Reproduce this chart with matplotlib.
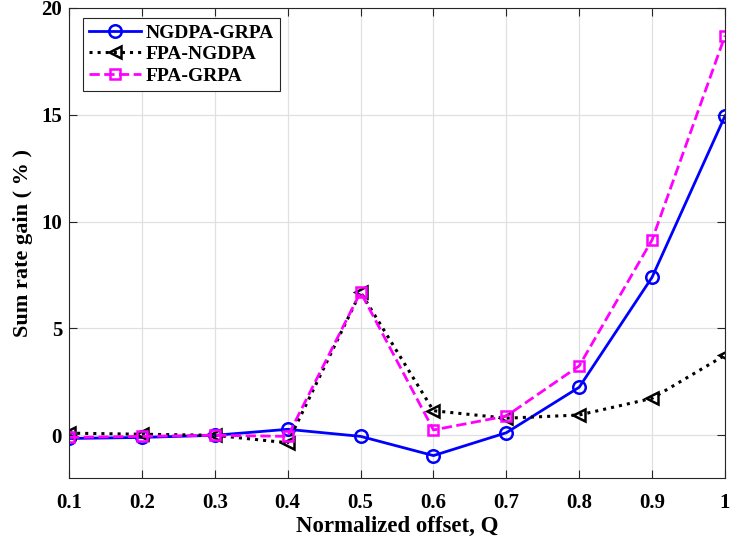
import matplotlib.pyplot as plt

# Sum rate gain (%) versus normalized offset Q
q = [0.1, 0.2, 0.3, 0.4, 0.5, 0.6, 0.7, 0.8, 0.9, 1.0]
ngdpaGrpa = [-0.15, -0.1, 0.0, 0.28, -0.05, -0.95, 0.12, 2.25, 7.4, 14.95]
fpaNgdpa = [0.1, 0.05, 0.0, -0.35, 6.7, 1.15, 0.8, 0.95, 1.73, 3.75]
fpaGrpa = [-0.1, -0.05, 0.0, -0.05, 6.7, 0.25, 0.9, 3.25, 9.15, 18.7]

xTicks = [0.1, 0.2, 0.3, 0.4, 0.5, 0.6, 0.7, 0.8, 0.9, 1]
xTickLabels = ['0.1', '0.2', '0.3', '0.4', '0.5', '0.6', '0.7', '0.8', '0.9', '1']
yTicks = [0, 5, 10, 15, 20]

plt.rcParams['font.family'] = ['Liberation Serif', 'DejaVu Serif']
plt.rcParams['font.weight'] = 'bold'

fig = plt.figure(figsize=(7.31, 5.47), dpi=100)
ax = fig.add_axes([0.0944, 0.1261, 0.8974, 0.8593])

ax.plot(q, ngdpaGrpa, color='blue', linestyle='-', linewidth=2, marker='o',
        markersize=9, markerfacecolor='none', markeredgewidth=1.8, label='NGDPA-GRPA')
ax.plot(q, fpaNgdpa, color='black', linestyle=':', linewidth=2.2, marker='<',
        markersize=9, markerfacecolor='none', markeredgewidth=1.8, label='FPA-NGDPA')
ax.plot(q, fpaGrpa, color='magenta', linestyle='--', linewidth=2, marker='s',
        markersize=7.5, markerfacecolor='none', markeredgewidth=1.8, label='FPA-GRPA')

ax.set_xlim(0.1, 1)
ax.set_ylim(-2, 20)
ax.set_xticks(xTicks)
ax.set_xticklabels(xTickLabels)
ax.set_yticks(yTicks)
ax.tick_params(direction='in', top=True, right=True, labelsize=15, length=6,
               width=0.8, color='#262626')
ax.tick_params(axis='x', pad=11)
ax.tick_params(axis='y', pad=5)
ax.grid(True, color='#e0e0e0', linewidth=0.9)
ax.set_axisbelow(True)
for s in ax.spines.values():
    s.set_color('#262626')
    s.set_linewidth(0.8)

ax.set_xlabel('Normalized offset, Q', fontsize=16.5, fontweight='bold', labelpad=2)
ax.set_ylabel('Sum rate gain ( % )', fontsize=16, fontweight='bold', labelpad=6)

leg = ax.legend(loc='upper left', bbox_to_anchor=(0.021, 0.978), fontsize=14,
                fancybox=False, edgecolor='#262626', framealpha=1,
                handlelength=2.7, handletextpad=0.25, borderpad=0.3,
                labelspacing=0.2, borderaxespad=0)
leg.get_frame().set_linewidth(0.8)

fig.savefig('out.png', dpi=100)
